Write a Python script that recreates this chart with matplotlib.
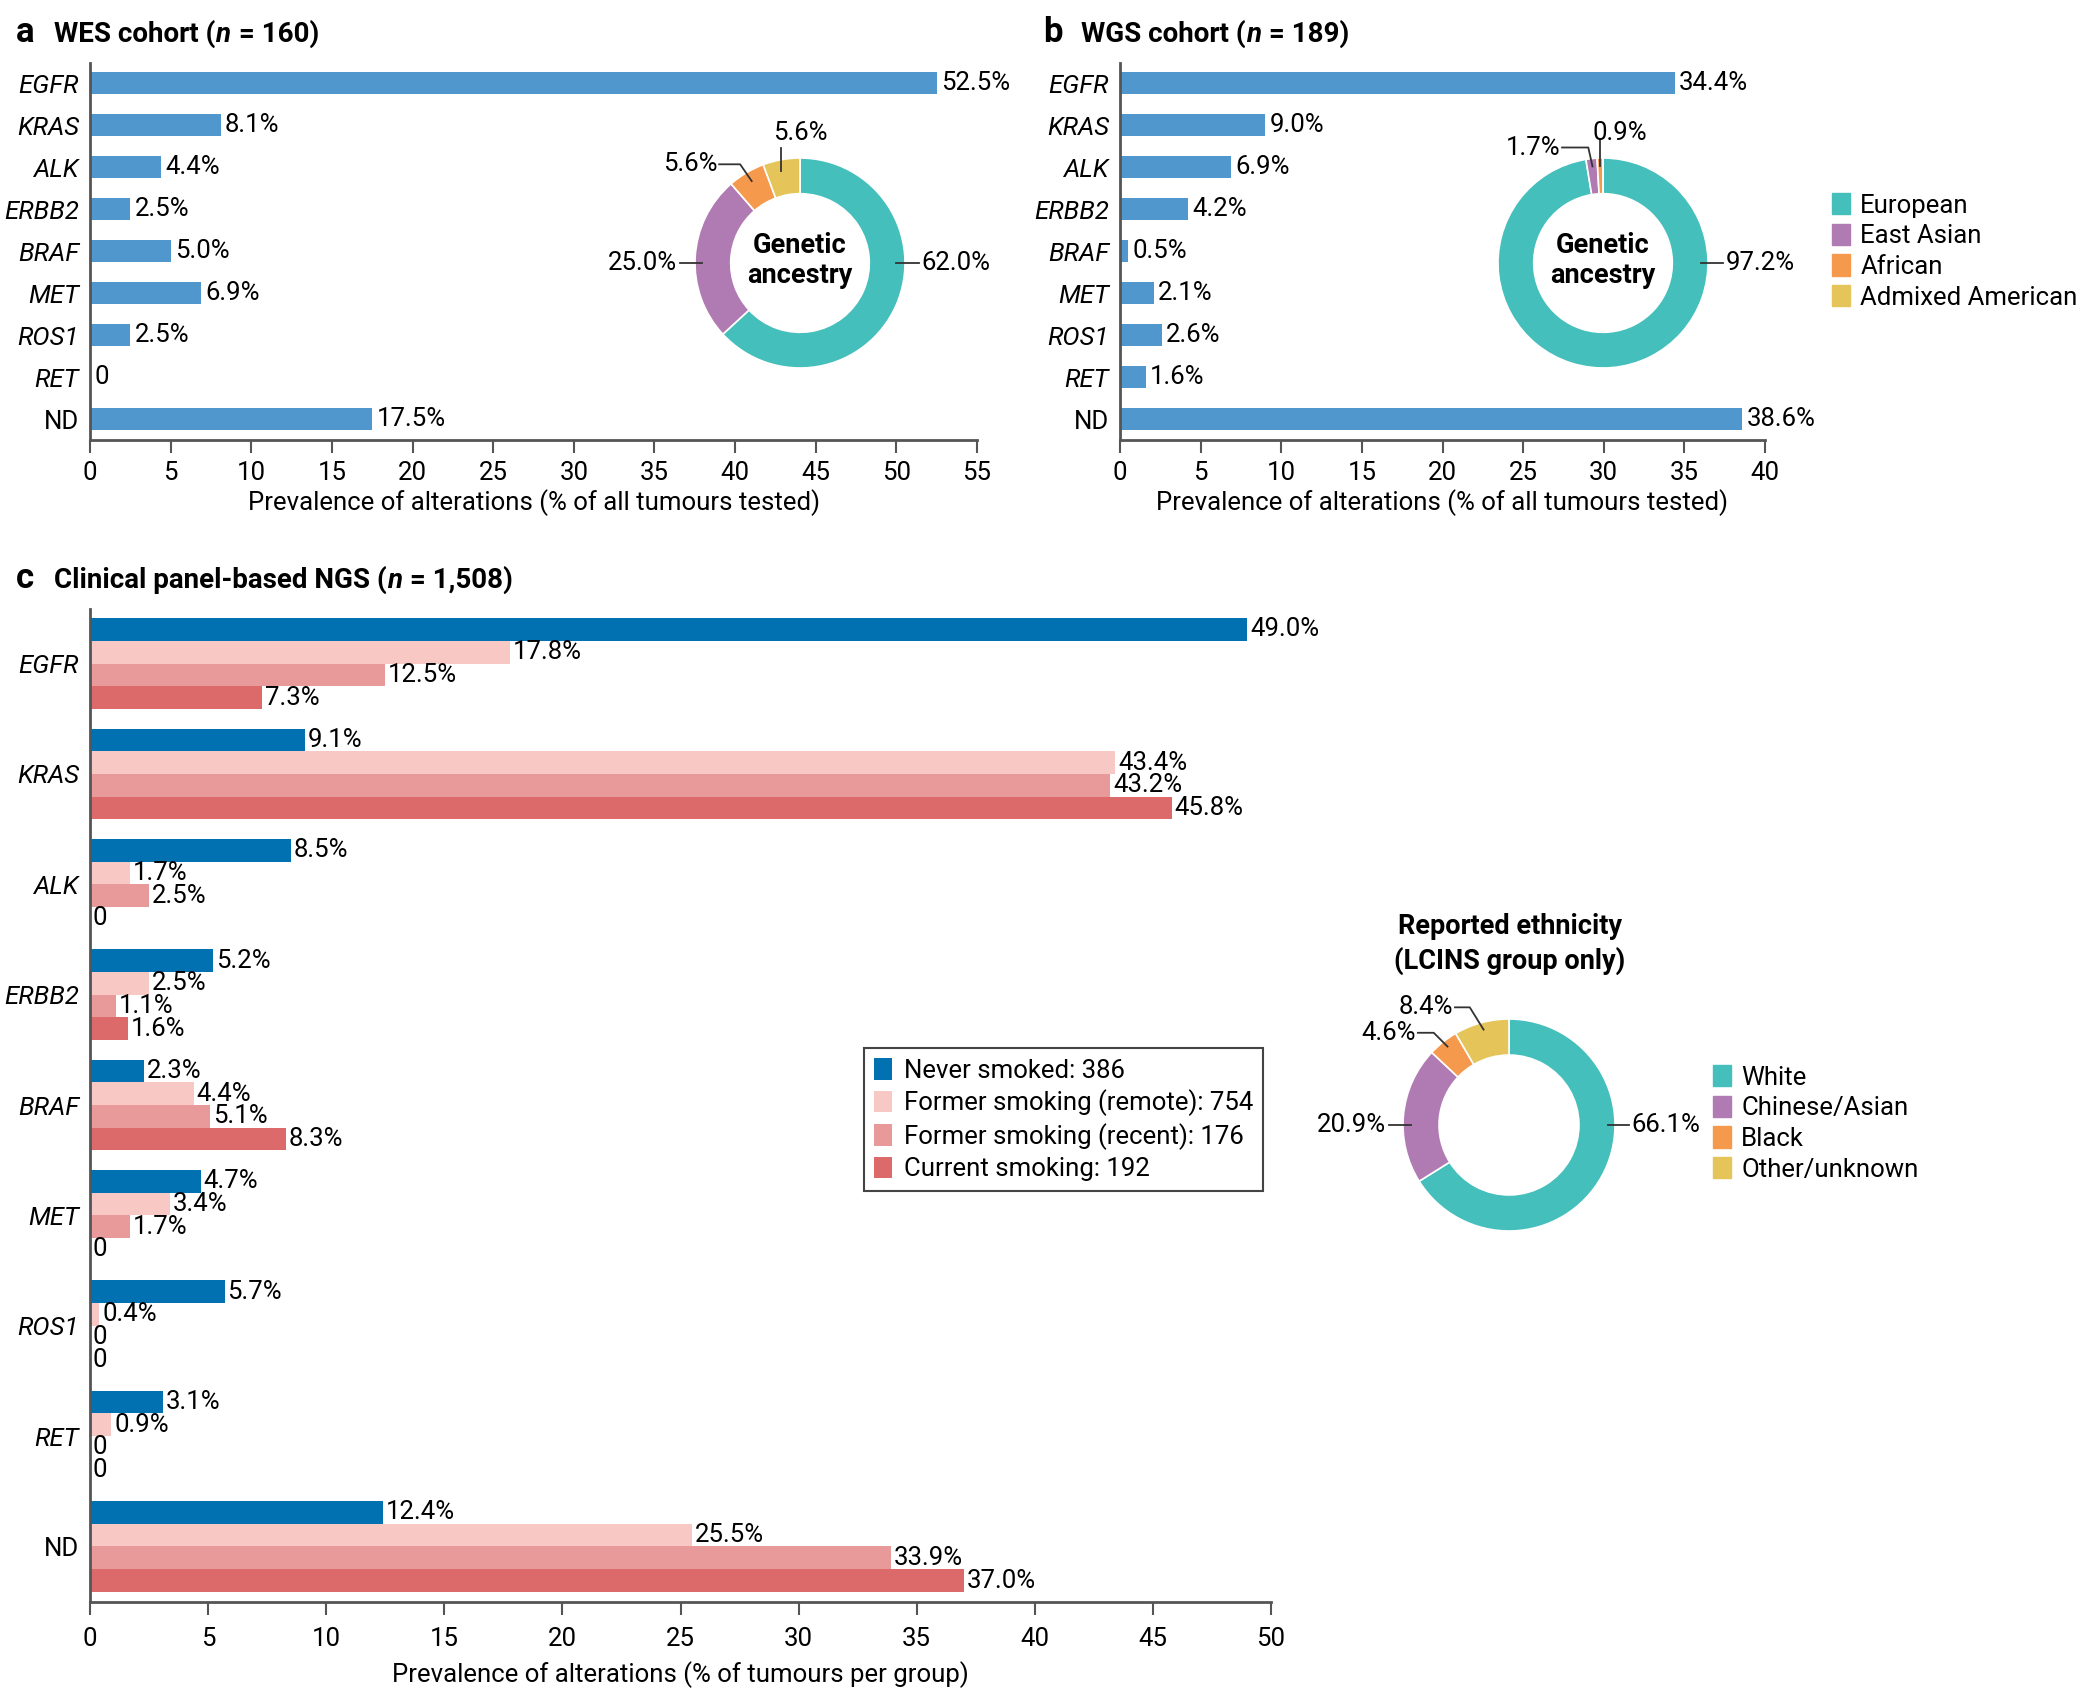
import numpy as np
import matplotlib
matplotlib.use('Agg')
import matplotlib.pyplot as plt
from matplotlib.patches import Patch

plt.rcParams['font.family'] = ['Roboto', 'DejaVu Sans']

genes = ['EGFR', 'KRAS', 'ALK', 'ERBB2', 'BRAF', 'MET', 'ROS1', 'RET', 'ND']
wes_vals = [52.5, 8.1, 4.4, 2.5, 5.0, 6.9, 2.5, 0, 17.5]
wgs_vals = [34.4, 9.0, 6.9, 4.2, 0.5, 2.1, 2.6, 1.6, 38.6]

ancestry = ['European', 'East Asian', 'African', 'Admixed American']
wes_anc = [62.0, 25.0, 5.6, 5.6]
wgs_anc = [97.2, 1.7, 0.9, 0]

smoking = ['Never smoked: 386', 'Former smoking (remote): 754',
           'Former smoking (recent): 176', 'Current smoking: 192']
never = [49.0, 9.1, 8.5, 5.2, 2.3, 4.7, 5.7, 3.1, 12.4]
remote = [17.8, 43.4, 1.7, 2.5, 4.4, 3.4, 0.4, 0.9, 25.5]
recent = [12.5, 43.2, 2.5, 1.1, 5.1, 1.7, 0, 0, 33.9]
current = [7.3, 45.8, 0, 1.6, 8.3, 0, 0, 0, 37.0]

ethnicity = ['White', 'Chinese/Asian', 'Black', 'Other/unknown']
eth_vals = [66.1, 20.9, 4.6, 8.4]

bar_blue = '#4f97cc'
smoke_cols = ['#0171b2', '#f8c8c4', '#e89a9a', '#dc6a6a']
donut_cols = ['#45bfbb', '#b07ab3', '#f5994d', '#e5c55a']
FS = 18.5
W, H = 2100, 1701


def fmt(v):
    return '0' if v == 0 else f'{v:.1f}%'


def px_axes(l, t, r, b):
    return fig.add_axes([l / W, 1 - b / H, (r - l) / W, (b - t) / H])


def style_bar_axis(ax, xmax, xlabel, lpad):
    ax.set_xlim(0, xmax)
    ax.set_xticks(np.arange(0, xmax + 1, 5))
    for s in ['top', 'right']:
        ax.spines[s].set_visible(False)
    for s in ['left', 'bottom']:
        ax.spines[s].set_color('#555555')
        ax.spines[s].set_linewidth(2)
    ax.tick_params(axis='x', length=9, width=1.5, color='#555555', pad=6, labelsize=FS)
    ax.tick_params(axis='y', length=0, pad=8, labelsize=FS)
    ax.set_xlabel(xlabel, fontsize=FS, labelpad=lpad)
    for lbl in ax.get_yticklabels():
        if lbl.get_text() != 'ND':
            lbl.set_fontstyle('italic')


def label_bars(ax, ys, vals, off):
    for yi, v in zip(ys, vals):
        ax.annotate(fmt(v), (v, yi), xytext=(off, 0), textcoords='offset points',
                    va='center', fontsize=FS)


def donut(cx, cy, r, vals, center_txt=None):
    ax = px_axes(cx - r, cy - r, cx + r, cy + r)
    ax.pie(vals, colors=donut_cols, startangle=90, counterclock=False, radius=1,
           wedgeprops=dict(width=0.34, edgecolor='white', linewidth=1.2))
    ax.set_xlim(-1, 1)
    ax.set_ylim(-1, 1)
    ax.axis('off')
    if center_txt:
        ax.text(0, 0.02, center_txt, ha='center', va='center', fontsize=19.5,
                fontweight='bold', linespacing=1.15)
    return ax


def leader(ax, pts, txt, tx, ty, ha):
    xs, ys = zip(*pts)
    ax.plot(xs, ys, color='#333333', lw=1.3, clip_on=False)
    ax.text(tx, ty, txt, ha=ha, va='center', fontsize=FS)


fig = plt.figure(figsize=(21, 17.01), dpi=100)
y = np.arange(len(genes))

# panel a
axa = px_axes(90, 63, 977, 440)
axa.barh(y, wes_vals, height=0.53, color=bar_blue)
label_bars(axa, y, wes_vals, 3)
axa.set_yticks(y, genes)
axa.set_ylim(8.5, -0.48)
style_bar_axis(axa, 55, 'Prevalence of alterations (% of all tumours tested)', 3)

# panel b
axb = px_axes(1120, 63, 1765, 440)
axb.barh(y, wgs_vals, height=0.53, color=bar_blue)
label_bars(axb, y, wgs_vals, 3)
axb.set_yticks(y, genes)
axb.set_ylim(8.5, -0.48)
style_bar_axis(axb, 40, 'Prevalence of alterations (% of all tumours tested)', 3)

# panel c
axc = px_axes(90, 609, 1271, 1602)
h = 0.2056
series = [never, remote, recent, current]
for k, (vals, col, lab) in enumerate(zip(series, smoke_cols, smoking)):
    yy = y + (k - 1.5) * h
    axc.barh(yy, vals, height=h, color=col, label=lab)
    label_bars(axc, yy, vals, 2)
axc.set_yticks(y, genes)
axc.set_ylim(8.503, -0.494)
style_bar_axis(axc, 50, 'Prevalence of alterations (% of tumours per group)', 7)
axc.tick_params(axis='x', pad=9)
leg = axc.legend(loc='upper left', bbox_to_anchor=(864 / W, 1 - 1048 / H),
                 bbox_transform=fig.transFigure, borderaxespad=0, fontsize=FS,
                 fancybox=False, edgecolor='#444444', handlelength=0.7,
                 handleheight=0.9, handletextpad=0.45, labelspacing=0.26,
                 borderpad=0.4, framealpha=1)
leg.get_frame().set_linewidth(1.5)

# donuts
da = donut(800, 263, 105, wes_anc, 'Genetic\nancestry')
leader(da, [(0.91, 0), (1.13, 0)], '62.0%', 1.16, 0, 'left')
leader(da, [(-1.14, 0), (-0.93, 0)], '25.0%', -1.17, 0, 'right')
leader(da, [(-0.77, 0.94), (-0.57, 0.94), (-0.46, 0.78)], '5.6%', -0.79, 0.94, 'right')
leader(da, [(-0.18, 1.10), (-0.18, 0.88)], '5.6%', 0.0, 1.24, 'center')

db = donut(1603, 263, 105, wgs_anc, 'Genetic\nancestry')
leader(db, [(0.93, 0), (1.14, 0)], '97.2%', 1.17, 0, 'left')
leader(db, [(-0.39, 1.10), (-0.14, 1.10), (-0.10, 0.92)], '1.7%', -0.41, 1.10, 'right')
leader(db, [(-0.03, 1.17), (-0.03, 0.92)], '0.9%', 0.16, 1.24, 'center')
fig.legend([Patch(color=c) for c in donut_cols], ancestry, loc='upper left',
           bbox_to_anchor=(1832 / W, 1 - 193 / H), frameon=False, fontsize=FS,
           handlelength=0.7, handleheight=0.9, handletextpad=0.4, labelspacing=0.24,
           borderaxespad=0, borderpad=0)

dc = donut(1509, 1125, 106, eth_vals)
leader(dc, [(0.93, 0), (1.13, 0)], '66.1%', 1.15, 0, 'left')
leader(dc, [(-1.13, 0), (-0.92, 0)], '20.9%', -1.16, 0, 'right')
leader(dc, [(-0.86, 0.87), (-0.71, 0.87), (-0.58, 0.74)], '4.6%', -0.88, 0.87, 'right')
leader(dc, [(-0.51, 1.11), (-0.37, 1.11), (-0.24, 0.90)], '8.4%', -0.53, 1.11, 'right')
fig.text(1510 / W, 1 - 944 / H, 'Reported ethnicity\n(LCINS group only)', ha='center',
         va='center', fontsize=19.5, fontweight='bold', linespacing=1.3)
fig.legend([Patch(color=c) for c in donut_cols], ethnicity, loc='upper left',
           bbox_to_anchor=(1713 / W, 1 - 1065 / H), frameon=False, fontsize=FS,
           handlelength=0.7, handleheight=0.9, handletextpad=0.4, labelspacing=0.24,
           borderaxespad=0, borderpad=0)

# panel titles, with an italic n
titles = [(16, 42, 'a', ['WES cohort (', 'n', ' = 160)']),
          (1043, 42, 'b', ['WGS cohort (', 'n', ' = 189)']),
          (16, 588, 'c', ['Clinical panel-based NGS (', 'n', ' = 1,508)'])]
fig.canvas.draw()
renderer = fig.canvas.get_renderer()
for x, yt, letter, pieces in titles:
    fig.text(x / W, 1 - yt / H, letter, fontsize=25, fontweight='bold', va='baseline')
    xpos = (x + 38) / W
    for i, txt in enumerate(pieces):
        t = fig.text(xpos, 1 - yt / H, txt, fontsize=20, fontweight='bold',
                     fontstyle='italic' if i == 1 else 'normal', va='baseline')
        bb = t.get_window_extent(renderer)
        xpos = bb.x1 / fig.bbox.width + (1 / W if i == 1 else 0)

fig.savefig('out.png', dpi=100)
